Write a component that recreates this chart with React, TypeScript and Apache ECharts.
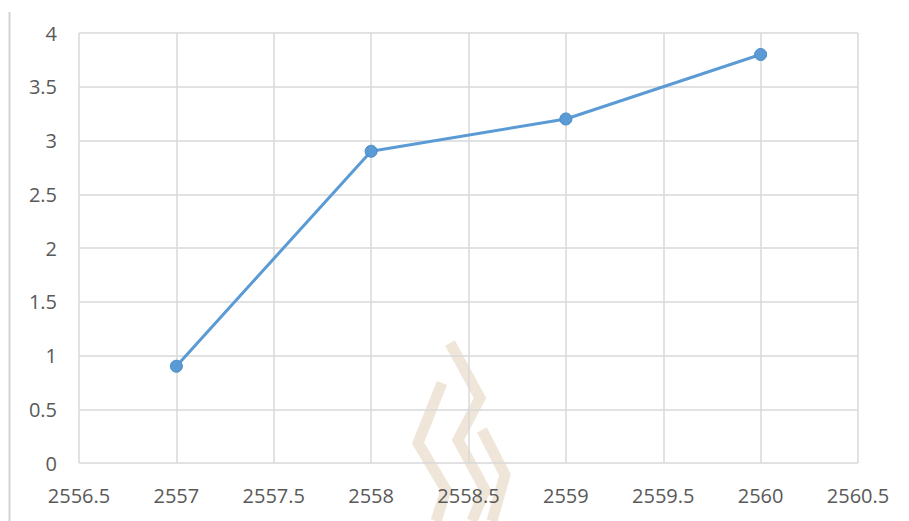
import React, { useEffect, useRef } from "react";
import * as echarts from "echarts";

const years = [2557, 2558, 2559, 2560];
const values = [0.9, 2.9, 3.2, 3.8];
const xMin = 2556.5;
const xMax = 2560.5;
const yMin = 0;
const yMax = 4;

export default function App() {
  const ref = useRef<HTMLDivElement>(null);
  useEffect(() => {
    document.body.style.margin = "0";
    const chart = echarts.init(ref.current!, undefined, { renderer: "svg" });
    const wm = "rgba(205,175,135,0.32)";
    chart.setOption({
      animation: false,
      backgroundColor: "#ffffff",
      grid: { left: 79, right: 51, top: 33, bottom: 58 },
      xAxis: {
        type: "value",
        min: xMin,
        max: xMax,
        interval: 0.5,
        axisLine: { show: false },
        axisTick: { show: false },
        splitLine: { show: true, lineStyle: { color: "#d9d9d9", width: 1.5 } },
        axisLabel: {
          color: "#595959",
          fontSize: 20,
          fontFamily: "Open Sans",
          margin: 22,
          showMinLabel: true,
          showMaxLabel: true,
          formatter: (v: number) => String(v),
        },
      },
      yAxis: {
        type: "value",
        min: yMin,
        max: yMax,
        interval: 0.5,
        axisLine: { show: false },
        axisTick: { show: false },
        splitLine: { show: true, lineStyle: { color: "#d9d9d9", width: 1.5 } },
        axisLabel: {
          color: "#595959",
          fontSize: 20,
          fontFamily: "Open Sans",
          margin: 22,
          formatter: (v: number) => String(v),
        },
      },
      graphic: [
        { type: "line", shape: { x1: 9.5, y1: 12, x2: 9.5, y2: 521 }, style: { stroke: "#d4d4d4", lineWidth: 2 }, z: -10 },
        { type: "polyline", shape: { points: [[450, 343], [480, 398], [458, 440], [485, 490], [472, 521]] }, style: { stroke: wm, lineWidth: 11, fill: "none" }, z: -5 },
        { type: "polyline", shape: { points: [[442, 383], [418, 443], [446, 490], [436, 521]] }, style: { stroke: wm, lineWidth: 11, fill: "none" }, z: -5 },
        { type: "polyline", shape: { points: [[482, 430], [505, 475], [492, 521]] }, style: { stroke: wm, lineWidth: 11, fill: "none" }, z: -5 },
      ],
      series: [
        {
          type: "line",
          data: years.map((y, i) => [y, values[i]]),
          symbol: "circle",
          symbolSize: 12,
          lineStyle: { color: "#5b9bd5", width: 3 },
          itemStyle: { color: "#5b9bd5", borderColor: "#4a89c4", borderWidth: 1 },
          z: 3,
        },
      ],
    });
    return () => chart.dispose();
  }, []);
  return <div ref={ref} style={{ width: 909, height: 521 }} />;
}
